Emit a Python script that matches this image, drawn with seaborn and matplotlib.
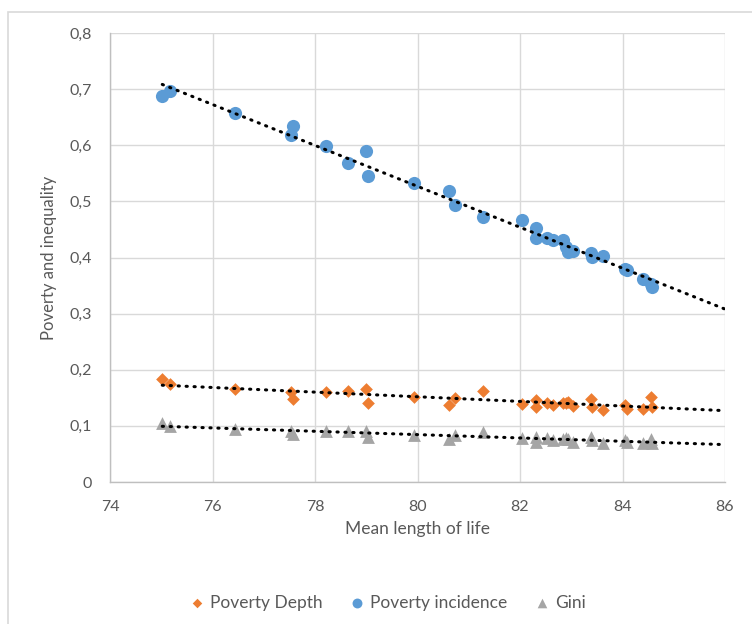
import numpy as np
import pandas as pd
import matplotlib
matplotlib.use('Agg')
import matplotlib.pyplot as plt
import seaborn as sns
from matplotlib.patches import Rectangle
from matplotlib.ticker import FuncFormatter

# Mean length of life (one value per observation)
life = [75.02, 75.18, 76.43, 77.54, 77.57, 78.21, 78.65, 78.99, 79.03, 79.93,
        80.61, 80.73, 81.28, 82.04, 82.31, 82.32, 82.53, 82.65, 82.84, 82.90,
        82.94, 83.04, 83.38, 83.41, 83.62, 84.05, 84.08, 84.40, 84.55, 84.58]

incidence = [0.687, 0.697, 0.657, 0.619, 0.634, 0.598, 0.568, 0.590, 0.545, 0.533,
             0.519, 0.493, 0.472, 0.467, 0.453, 0.435, 0.435, 0.431, 0.431, 0.419,
             0.410, 0.412, 0.408, 0.401, 0.403, 0.380, 0.377, 0.362, 0.352, 0.347]

depth = [0.183, 0.175, 0.166, 0.161, 0.148, 0.160, 0.163, 0.165, 0.141, 0.151,
         0.137, 0.150, 0.163, 0.139, 0.146, 0.134, 0.141, 0.138, 0.140, 0.141,
         0.143, 0.136, 0.148, 0.134, 0.128, 0.137, 0.130, 0.130, 0.151, 0.134]

gini = [0.105, 0.100, 0.094, 0.090, 0.085, 0.091, 0.091, 0.091, 0.080, 0.084,
        0.076, 0.084, 0.089, 0.078, 0.081, 0.072, 0.078, 0.074, 0.076, 0.078,
        0.076, 0.072, 0.081, 0.075, 0.069, 0.074, 0.071, 0.069, 0.076, 0.070]

sns.set_style('white')
plt.rcParams['font.family'] = ['Lato', 'DejaVu Sans']

fig = plt.figure(figsize=(7.52, 6.24), dpi=100)
ax = fig.add_axes([110 / 752, 142 / 624, 615 / 752, 449 / 624])

# outer chart frame
fig.patches.append(Rectangle((8 / 752, -0.01), 1.0, (612 / 624) + 0.01,
                             transform=fig.transFigure, fill=False,
                             edgecolor='#D9D9D9', linewidth=1.2))

series = [
    ('Poverty Depth', depth, '#ED7D31', 'D', 42),
    ('Poverty incidence', incidence, '#5B9BD5', 'o', 90),
    ('Gini', gini, '#A5A5A5', '^', 85),
]

x = np.array(life)
for name, vals, color, marker, size in series:
    df = pd.DataFrame({'life': life, 'val': vals})
    sns.scatterplot(data=df, x='life', y='val', color=color, marker=marker,
                    s=size, linewidth=0, label=name, ax=ax, zorder=3)
    # linear trendline, forecast forward to 86
    k, b = np.polyfit(x, np.array(vals), 1)
    xs = np.array([x.min(), 86])
    ax.plot(xs, k * xs + b, color='black', linewidth=2.2,
            linestyle=(0, (0.4, 2.2)), dash_capstyle='round', zorder=4)

ax.set_xlim(74, 86)
ax.set_ylim(0, 0.8)
ax.set_xticks(np.arange(74, 87, 2))
ax.set_yticks(np.arange(0, 0.81, 0.1))
ax.yaxis.set_major_formatter(FuncFormatter(
    lambda v, p: '0' if abs(v) < 1e-9 else ('%.1f' % v).replace('.', ',')))

ax.grid(True, color='#D9D9D9', linewidth=1)
ax.set_axisbelow(True)
for side in ['top', 'right']:
    ax.spines[side].set_visible(False)
for side in ['left', 'bottom']:
    ax.spines[side].set_color('#BFBFBF')
    ax.spines[side].set_linewidth(1)

ax.tick_params(axis='both', colors='#595959', labelsize=11.5, length=5,
               width=1, direction='out', pad=8)
ax.tick_params(axis='both', color='#BFBFBF')

ax.set_xlabel('Mean length of life', fontsize=12.5, color='#595959', labelpad=5)
ax.set_ylabel('Poverty and inequality', fontsize=12, color='#595959', labelpad=9)

ax.legend(loc='center', bbox_to_anchor=(388 / 752, 21 / 624),
          bbox_transform=fig.transFigure, ncol=3, frameon=False,
          fontsize=12.5, handlelength=0.8, handletextpad=0.35,
          columnspacing=1.6, markerscale=0.75, labelcolor='#595959')

fig.savefig('out.png', dpi=100)
